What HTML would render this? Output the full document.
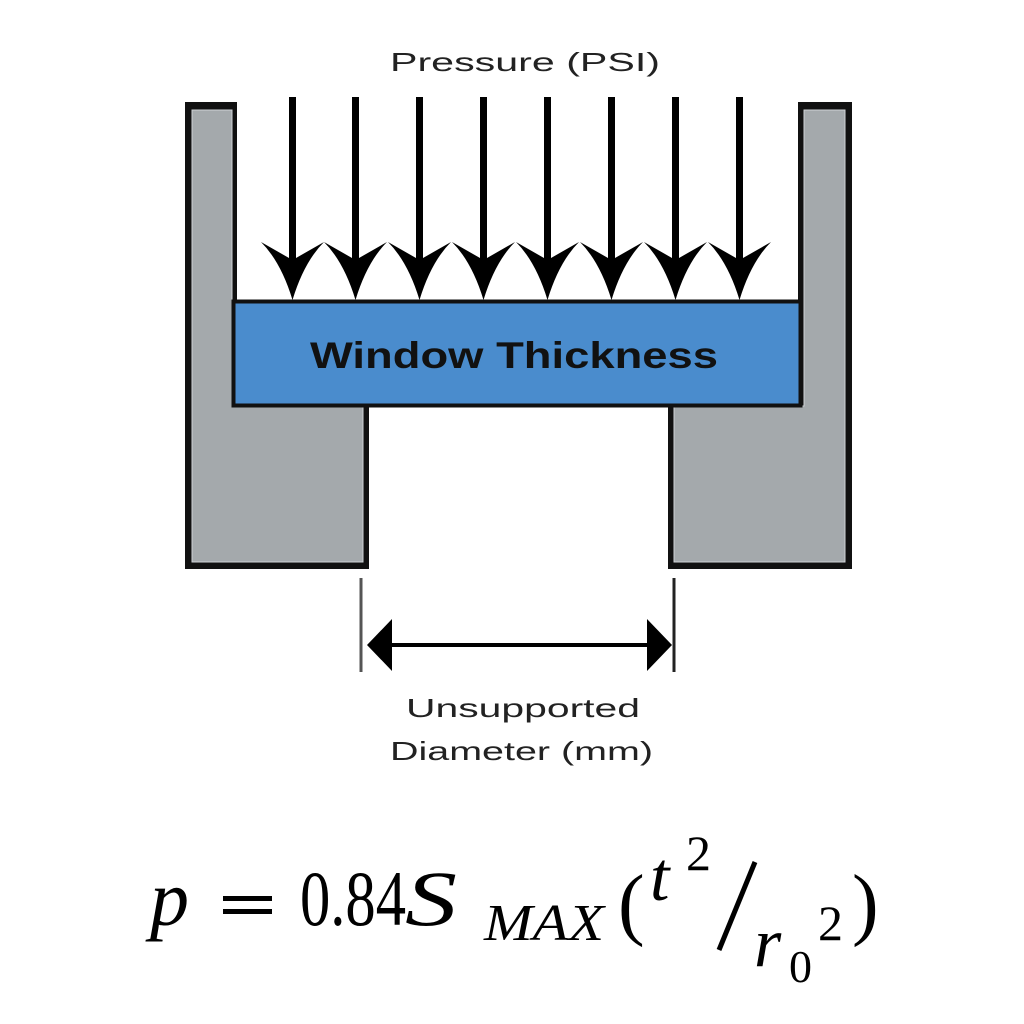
<!DOCTYPE html>
<html><head><meta charset="utf-8"><style>html,body{margin:0;padding:0;background:#fff}svg{display:block}</style></head>
<body>
<svg width="1024" height="1024" viewBox="0 0 1024 1024" xmlns="http://www.w3.org/2000/svg">
<rect width="1024" height="1024" fill="#fff"/>
<text x="390" y="71" font-family="Liberation Sans, sans-serif" font-size="26" fill="#222" textLength="270" lengthAdjust="spacingAndGlyphs">Pressure (PSI)</text>
<!-- walls -->
<polygon points="185,102 237,102 237,406 369,406 369,569 185,569" fill="#111"/>
<polygon points="192,110 232,110 232,406 363,406 363,562 192,562" fill="#a4a9ac" stroke="#d0d4d6" stroke-width="1"/>
<polygon points="798,102 852,102 852,569 668,569 668,406 798,406" fill="#111"/>
<polygon points="804,110 845,110 845,562 674,562 674,406 804,406" fill="#a4a9ac" stroke="#d0d4d6" stroke-width="1"/>
<!-- window -->
<rect x="233.5" y="301.5" width="567" height="104" fill="#4a8ccd" stroke="#111" stroke-width="4"/>
<text x="310" y="368" font-family="Liberation Sans, sans-serif" font-weight="bold" font-size="37" fill="#111" textLength="408" lengthAdjust="spacingAndGlyphs">Window Thickness</text>
<!-- arrows -->
<g fill="#000">
<g id="a"><rect x="289" y="97" width="7" height="165"/><path d="M261,242 L292.5,260 L324,242 Q304,262 292.5,300 Q281,262 261,242 Z"/></g>
<use href="#a" x="63"/><use href="#a" x="127"/><use href="#a" x="191"/><use href="#a" x="255"/><use href="#a" x="319"/><use href="#a" x="383"/><use href="#a" x="447"/>
</g>
<!-- dimension -->
<line x1="361" y1="578" x2="361" y2="672" stroke="#555" stroke-width="3"/>
<line x1="674" y1="578" x2="674" y2="672" stroke="#222" stroke-width="3"/>
<line x1="385" y1="645" x2="652" y2="645" stroke="#000" stroke-width="4"/>
<polygon points="367,645 392,619 392,671" fill="#000"/>
<polygon points="672,645 647,619 647,671" fill="#000"/>
<text x="406" y="717" font-family="Liberation Sans, sans-serif" font-size="26" fill="#222" textLength="234" lengthAdjust="spacingAndGlyphs">Unsupported</text>
<text x="390" y="760" font-family="Liberation Sans, sans-serif" font-size="26" fill="#222" textLength="263" lengthAdjust="spacingAndGlyphs">Diameter (mm)</text>
<!-- formula -->
<g font-family="Liberation Serif, serif" fill="#000">
<text x="150" y="925" font-size="78" font-style="italic">p</text>
<rect x="223" y="896" width="49" height="5"/><rect x="223" y="909" width="49" height="5"/>
<text x="300" y="925" font-size="78" textLength="106" lengthAdjust="spacingAndGlyphs">0.84</text>
<text x="405" y="925" font-size="78" font-style="italic" textLength="52" lengthAdjust="spacingAndGlyphs">S</text>
<text x="484" y="940" font-size="52" font-style="italic" textLength="120" lengthAdjust="spacingAndGlyphs">MAX</text>
<text x="618" y="930" font-size="80">(</text>
<text x="650" y="900" font-size="70" font-style="italic">t</text>
<text x="686" y="870" font-size="50">2</text>
<line x1="755" y1="862" x2="719" y2="950" stroke="#000" stroke-width="5"/>
<text x="754" y="966" font-size="70" font-style="italic">r</text>
<text x="789" y="982" font-size="46">0</text>
<text x="818" y="940" font-size="50">2</text>
<text x="852" y="930" font-size="80">)</text>
</g>
</svg>
</body></html>
